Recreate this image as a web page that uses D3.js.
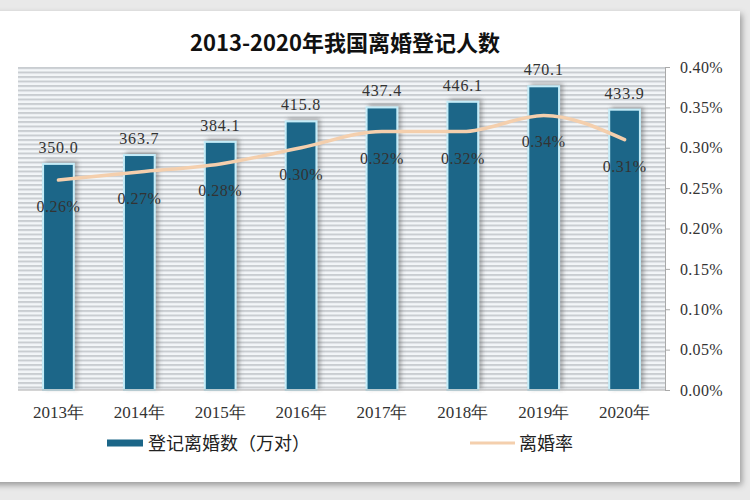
<!DOCTYPE html>
<html>
<head>
<meta charset="utf-8">
<script src="https://cdn.jsdelivr.net/npm/d3@7.9.0/dist/d3.min.js"></script>
<style>
  body { margin: 0; background: #ffffff; }
  svg { display: block; }
</style>
</head>
<body>
<svg id="chart" width="750" height="500"></svg>
<script>
// data
const years = ['2013年', '2014年', '2015年', '2016年', '2017年', '2018年', '2019年', '2020年'];
const divorces = [350.0, 363.7, 384.1, 415.8, 437.4, 446.1, 470.1, 433.9];
const rates = [0.26, 0.27, 0.28, 0.30, 0.32, 0.32, 0.34, 0.31];
const rateTicks = [0, 0.05, 0.10, 0.15, 0.20, 0.25, 0.30, 0.35, 0.40];

const svg = d3.select('#chart');
const numFont = '"Liberation Serif", "DejaVu Serif", serif';
const cjkFont = '"Noto Sans CJK SC", sans-serif';

// outer frame with a soft shadow
const defs = svg.append('defs');
const shadow = defs.append('filter').attr('id', 'frameShadow')
    .attr('x', '-5%').attr('y', '-5%').attr('width', '110%').attr('height', '110%');
shadow.append('feDropShadow').attr('dx', 2).attr('dy', 3).attr('stdDeviation', 3)
    .attr('flood-color', '#000').attr('flood-opacity', 0.35);

const barShadow = defs.append('filter').attr('id', 'barShadow')
    .attr('x', '-30%').attr('y', '-10%').attr('width', '160%').attr('height', '120%');
barShadow.append('feDropShadow').attr('dx', 3).attr('dy', -2).attr('stdDeviation', 2)
    .attr('flood-color', '#555').attr('flood-opacity', 0.45);

const stripes = defs.append('pattern').attr('id', 'stripes')
    .attr('patternUnits', 'userSpaceOnUse').attr('width', 10).attr('height', 4.5);
stripes.append('rect').attr('width', 10).attr('height', 4.5).attr('fill', '#f3f6f8');
stripes.append('rect').attr('y', 0).attr('width', 10).attr('height', 2).attr('fill', '#c9cdd1');

svg.append('rect').attr('x', 0).attr('y', 0).attr('width', 750).attr('height', 500).attr('fill', '#e9e9e9');
svg.append('rect').attr('x', -10).attr('y', 11).attr('width', 750).attr('height', 471)
    .attr('fill', '#ffffff').attr('filter', 'url(#frameShadow)');

const margin = { top: 67, right: 85, bottom: 110, left: 18 };
const width = 750 - margin.left - margin.right;
const height = 500 - margin.top - margin.bottom;

const g = svg.append('g').attr('transform', `translate(${margin.left},${margin.top})`);

const x = d3.scaleBand().domain(years).range([0, width]).paddingInner(0.62).paddingOuter(0.31);
const yLeft = d3.scaleLinear().domain([0, 500]).range([height, 0]);
const yRight = d3.scaleLinear().domain([0, 0.40]).range([height, 0]);

// striped plot background
g.append('rect').attr('width', width).attr('height', height).attr('fill', 'url(#stripes)');

// bars
g.selectAll('.bar')
    .data(divorces)
    .join('rect')
    .attr('class', 'bar')
    .attr('x', (d, i) => x(years[i]))
    .attr('y', d => yLeft(d))
    .attr('width', x.bandwidth())
    .attr('height', d => height - yLeft(d))
    .attr('fill', '#1b6688')
    .attr('stroke', '#c4ecf8')
    .attr('stroke-width', 2)
    .attr('filter', 'url(#barShadow)');

// bar value labels
g.selectAll('.bar-label')
    .data(divorces)
    .join('text')
    .attr('x', (d, i) => x(years[i]) + x.bandwidth() / 2)
    .attr('y', d => yLeft(d) - 11)
    .attr('text-anchor', 'middle')
    .attr('font-family', numFont)
    .attr('font-size', 16)
    .attr('letter-spacing', 0.8)
    .attr('fill', '#333')
    .text(d => d.toFixed(1));

// rate line
const line = d3.line()
    .x((d, i) => x(years[i]) + x.bandwidth() / 2)
    .y(d => yRight(d))
    .curve(d3.curveMonotoneX);

g.append('path')
    .datum(rates)
    .attr('d', line)
    .attr('fill', 'none')
    .attr('stroke', '#f4cfad')
    .attr('stroke-width', 3.5)
    .attr('stroke-linecap', 'round');

// rate labels
g.selectAll('.rate-label')
    .data(rates)
    .join('text')
    .attr('x', (d, i) => x(years[i]) + x.bandwidth() / 2)
    .attr('y', d => yRight(d) + 32)
    .attr('text-anchor', 'middle')
    .attr('font-family', numFont)
    .attr('font-size', 16)
    .attr('letter-spacing', 0.5)
    .attr('fill', '#333')
    .text(d => d.toFixed(2) + '%');

// bottom axis line
g.append('line').attr('x1', 0).attr('x2', width).attr('y1', height).attr('y2', height)
    .attr('stroke', '#a9a9a9').attr('stroke-width', 1);

// category labels
g.selectAll('.x-label')
    .data(years)
    .join('text')
    .attr('x', d => x(d) + x.bandwidth() / 2)
    .attr('y', height + 28)
    .attr('text-anchor', 'middle')
    .attr('font-family', numFont)
    .attr('font-size', 17)
    .attr('fill', '#333')
    .text(d => d);

// right axis
const rightAxis = g.append('g')
    .attr('transform', `translate(${width},0)`)
    .call(d3.axisRight(yRight).tickValues(rateTicks).tickSize(5).tickPadding(10)
        .tickFormat(d => d.toFixed(2) + '%'));
rightAxis.select('.domain').attr('stroke', '#a9a9a9');
rightAxis.selectAll('.tick line').attr('stroke', '#a9a9a9');
rightAxis.selectAll('text')
    .attr('font-family', numFont)
    .attr('font-size', 16)
    .attr('letter-spacing', 0.3)
    .attr('fill', '#333');

// title
svg.append('text')
    .attr('x', 345)
    .attr('y', 51)
    .attr('text-anchor', 'middle')
    .attr('font-family', cjkFont)
    .attr('font-weight', 'bold')
    .attr('font-size', 22)
    .attr('fill', '#111')
    .text('2013-2020年我国离婚登记人数');

// legend
const legend = svg.append('g').attr('transform', 'translate(0,443)');
legend.append('line').attr('x1', 107).attr('x2', 143).attr('y1', 0).attr('y2', 0)
    .attr('stroke', '#1b6688').attr('stroke-width', 7);
legend.append('text').attr('x', 148).attr('y', 7)
    .attr('font-family', cjkFont).attr('font-size', 18).attr('fill', '#222')
    .text('登记离婚数（万对）');
legend.append('line').attr('x1', 470).attr('x2', 515).attr('y1', 0).attr('y2', 0)
    .attr('stroke', '#f4cfad').attr('stroke-width', 3);
legend.append('text').attr('x', 519).attr('y', 7)
    .attr('font-family', cjkFont).attr('font-size', 18).attr('fill', '#222')
    .text('离婚率');
</script>
</body>
</html>
